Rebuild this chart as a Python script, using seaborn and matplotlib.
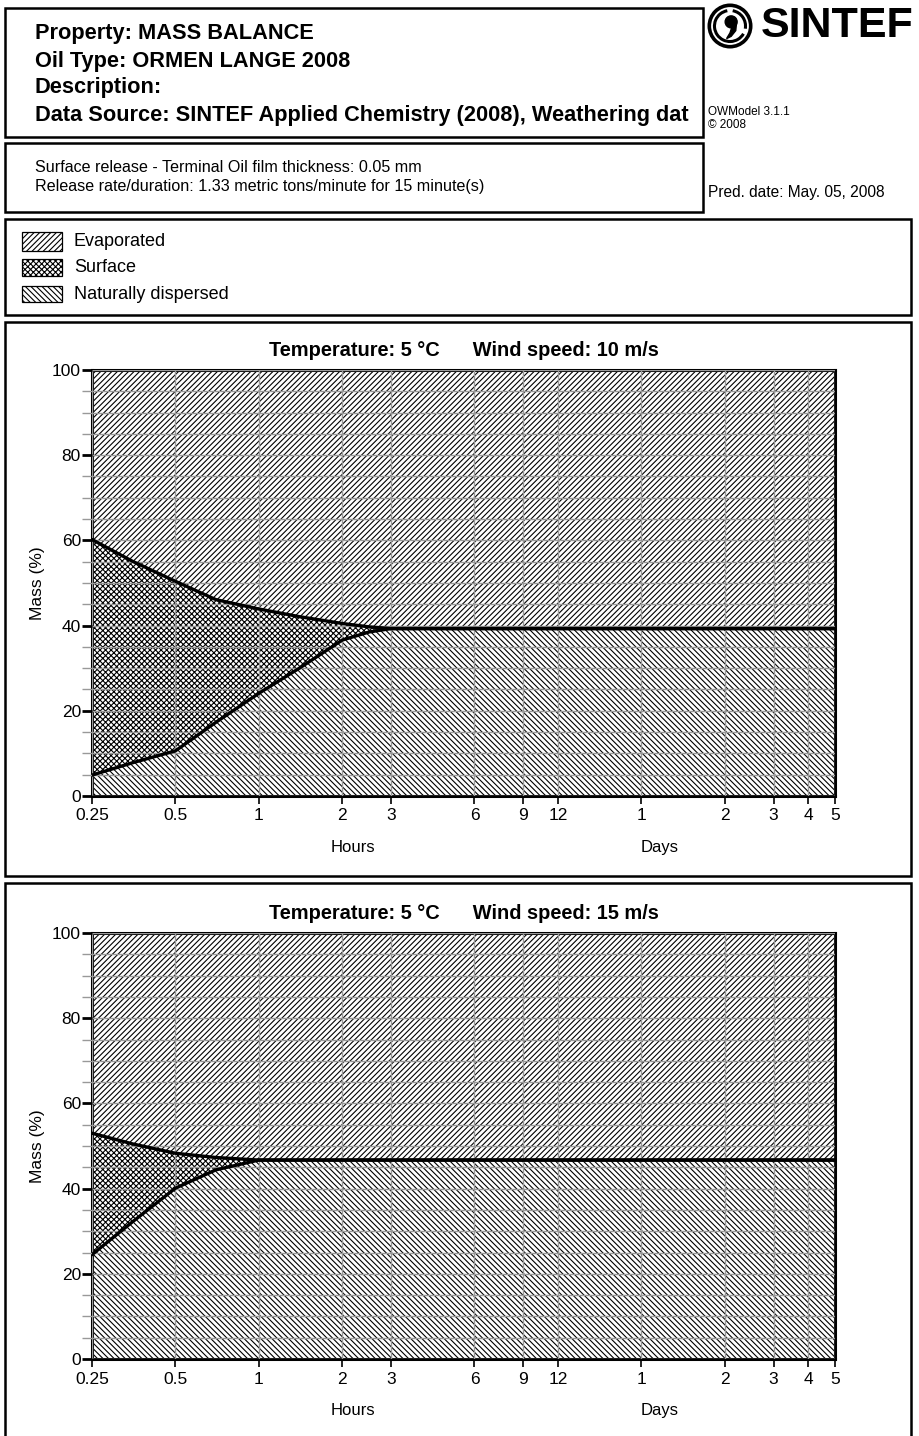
import matplotlib
matplotlib.use("Agg")
import matplotlib.pyplot as plt
from matplotlib.patches import Rectangle, Circle, Arc, Polygon
from matplotlib.ticker import MultipleLocator, NullLocator
import seaborn as sns

# Time after release (hours)
hours = [0.25, 0.35, 0.5, 0.7, 1, 1.4, 2, 2.5, 3, 6, 9, 12, 24, 48, 72, 96, 120]

# Mass balance (%) at 5 °C, wind 10 m/s
dispersed_10 = [4.9, 7.8, 10.6, 17.3, 24.1, 30.0, 36.6, 38.5, 39.3, 39.3, 39.3, 39.3, 39.3, 39.3, 39.3, 39.3, 39.3]
surface_10 = [55.3, 47.3, 39.8, 28.8, 19.8, 12.1, 3.9, 1.2, 0, 0, 0, 0, 0, 0, 0, 0, 0]
evaporated_10 = [39.8, 44.9, 49.6, 53.9, 56.1, 57.9, 59.5, 60.3, 60.7, 60.7, 60.7, 60.7, 60.7, 60.7, 60.7, 60.7, 60.7]

# Mass balance (%) at 5 °C, wind 15 m/s
dispersed_15 = [24.5, 32.2, 40.1, 44.4, 46.7, 46.7, 46.7, 46.7, 46.7, 46.7, 46.7, 46.7, 46.7, 46.7, 46.7, 46.7, 46.7]
surface_15 = [28.5, 18.3, 8.2, 2.9, 0, 0, 0, 0, 0, 0, 0, 0, 0, 0, 0, 0, 0]
evaporated_15 = [47.0, 49.5, 51.7, 52.7, 53.3, 53.3, 53.3, 53.3, 53.3, 53.3, 53.3, 53.3, 53.3, 53.3, 53.3, 53.3, 53.3]

tick_hours = [0.25, 0.5, 1, 2, 3, 6, 9, 12, 24, 48, 72, 96, 120]
tick_labels = ["0.25", "0.5", "1", "2", "3", "6", "9", "12", "1", "2", "3", "4", "5"]

categories = ["Evaporated", "Surface", "Naturally dispersed"]
hatches = {"Evaporated": "//////", "Surface": "xxxxxx", "Naturally dispersed": "\\" * 6}

sns.set_theme(style="white")
plt.rcParams["font.family"] = ["Liberation Sans", "DejaVu Sans"]
plt.rcParams["hatch.linewidth"] = 0.8
plt.rcParams["hatch.color"] = "black"
plt.rcParams["text.color"] = "black"
plt.rcParams["axes.labelcolor"] = "black"
plt.rcParams["xtick.color"] = "black"
plt.rcParams["ytick.color"] = "black"

W, H = 920, 1436
fig = plt.figure(figsize=(W / 100, H / 100), dpi=100)
fig.patch.set_facecolor("white")


def fx(x):
    return x / W


def fy(y):
    return 1 - y / H


def box(x0, y0, x1, y1, lw=1.8):
    fig.add_artist(Rectangle((fx(x0), fy(y1)), (x1 - x0) / W, (y1 - y0) / H,
                             transform=fig.transFigure, fill=False,
                             edgecolor="black", linewidth=lw))


def text(x, y, s, **kw):
    kw.setdefault("va", "center")
    kw.setdefault("ha", "left")
    fig.text(fx(x), fy(y), s, **kw)


# Header boxes
box(5, 8, 703, 137)
box(5, 143, 703, 212)
box(5, 219, 911, 315)
box(5, 322, 911, 876)
box(5, 883, 911, 1445)

header = ["Property: MASS BALANCE", "Oil Type: ORMEN LANGE 2008", "Description:",
          "Data Source: SINTEF Applied Chemistry (2008), Weathering dat"]
for i, line in enumerate(header):
    text(35, 34 + i * 27, line, fontsize=15.7, fontweight="bold")

text(35, 168, "Surface release - Terminal Oil film thickness: 0.05 mm", fontsize=11.6)
text(35, 187, "Release rate/duration: 1.33 metric tons/minute for 15 minute(s)", fontsize=11.6)

text(708, 112, "OWModel 3.1.1", fontsize=8.5)
text(708, 125, "© 2008", fontsize=8.5)
text(708, 193, "Pred. date: May. 05, 2008", fontsize=11.2)

# Logo
text(761, 26, "SINTEF", fontsize=31, fontweight="bold")
lax = fig.add_axes([fx(707), fy(49), 46 / W, 46 / H])
lax.set_xlim(-1, 1)
lax.set_ylim(-1, 1)
lax.set_aspect("equal")
lax.axis("off")
lax.add_patch(Circle((0, 0), 0.9, fill=False, lw=2.6, ec="black"))
lax.add_patch(Arc((0, 0), 1.35, 1.35, theta1=100, theta2=330, lw=2.2, color="black"))
lax.add_patch(Arc((0, 0), 1.35, 1.35, theta1=350, theta2=80, lw=2.2, color="black"))
lax.add_patch(Circle((0.05, 0.18), 0.26, color="black"))
lax.add_patch(Polygon([(0.28, 0.1), (0.25, -0.2), (0.05, -0.45), (-0.15, -0.55),
                       (0.0, -0.3), (0.08, -0.05)], closed=True, color="black"))

# Legend
swatch_y = [(232, 251), (259, 276), (286, 302)]
for cat, (y0, y1) in zip(categories, swatch_y):
    fig.add_artist(Rectangle((fx(22), fy(y1)), 40 / W, (y1 - y0) / H,
                             transform=fig.transFigure, facecolor="white",
                             edgecolor="black", linewidth=0.9, hatch=hatches[cat]))
    text(74, (y0 + y1) / 2 + 0.5, cat, fontsize=13)


def panel(top, dispersed, surface, wind):
    bottom = top + 426
    ax = fig.add_axes([fx(92), fy(bottom), 743 / W, 426 / H])
    lower = list(dispersed)
    upper = [d + s for d, s in zip(dispersed, surface)]
    ax.fill_between(hours, 0, lower, facecolor="white", edgecolor="black",
                    hatch=hatches["Naturally dispersed"], linewidth=0, zorder=1)
    ax.fill_between(hours, lower, upper, facecolor="white", edgecolor="black",
                    hatch=hatches["Surface"], linewidth=0, zorder=1)
    ax.fill_between(hours, upper, 100, facecolor="white", edgecolor="black",
                    hatch=hatches["Evaporated"], linewidth=0, zorder=1)
    sns.lineplot(x=hours, y=lower, ax=ax, color="black", linewidth=2.4, zorder=4)
    sns.lineplot(x=hours, y=upper, ax=ax, color="black", linewidth=2.4, zorder=4)

    ax.set_xscale("log")
    ax.set_xlim(hours[0], hours[-1])
    ax.set_ylim(0, 100)
    ax.set_xticks(tick_hours)
    ax.set_xticklabels(tick_labels)
    ax.xaxis.set_minor_locator(NullLocator())
    ax.set_yticks(range(0, 101, 20))
    ax.yaxis.set_minor_locator(MultipleLocator(5))

    ax.set_axisbelow(False)
    ax.grid(True, which="major", axis="x", color="#999999", linewidth=1)
    ax.grid(True, which="both", axis="y", color="#999999", linewidth=1)

    ax.tick_params(axis="y", which="major", length=7, width=2, color="black",
                   direction="out", labelsize=12.5, pad=1, left=True)
    ax.tick_params(axis="y", which="minor", length=7, width=1, color="#999999",
                   direction="out", left=True)
    ax.tick_params(axis="x", which="major", length=6, width=1.2, color="black",
                   direction="out", labelsize=12.5, pad=3, bottom=True)
    for sp in ax.spines.values():
        sp.set_visible(True)
        sp.set_color("black")
        sp.set_linewidth(2.2)
    ax.set_xlabel("")
    ax.set_ylabel("Mass (%)", fontsize=12.5, labelpad=5)

    ax.text(0.5, 1 + 10 / 426, f"Temperature: 5 °C      Wind speed: {wind} m/s",
            transform=ax.transAxes, ha="center", va="bottom",
            fontsize=14.4, fontweight="bold")

    text(353, bottom + 56, "Hours", fontsize=12, ha="center", va="baseline")
    text(660, bottom + 56, "Days", fontsize=12, ha="center", va="baseline")
    return ax


panel(370, dispersed_10, surface_10, 10)
panel(933, dispersed_15, surface_15, 15)

fig.savefig("out.png", dpi=100, facecolor="white")
